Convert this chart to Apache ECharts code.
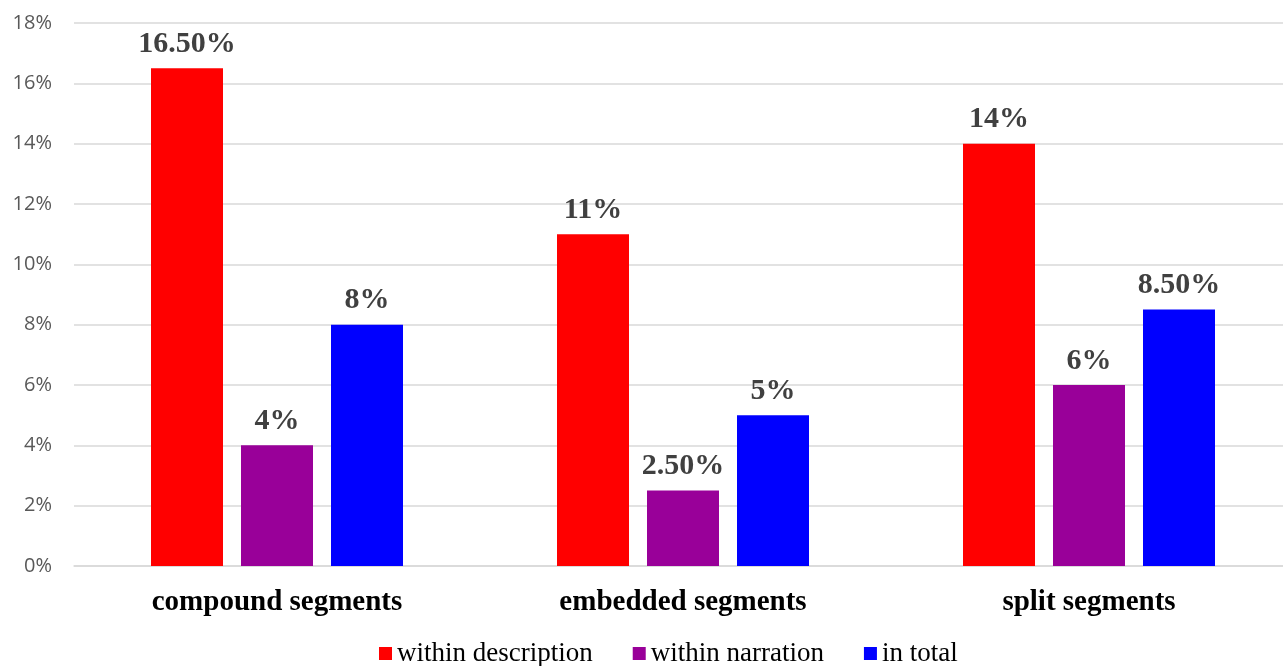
<!DOCTYPE html>
<html>
<head>
<meta charset="utf-8">
<script src="https://cdn.jsdelivr.net/npm/echarts@6/dist/echarts.min.js"></script>
<style>
  html, body { margin: 0; padding: 0; background: #fff; overflow: hidden; }
  #chart { width: 1292px; height: 666px; }
</style>
</head>
<body>
<div id="chart"></div>
<script>
// Share of segment types (in percent)
const categories = ['compound segments', 'embedded segments', 'split segments'];
const seriesNames = ['within description', 'within narration', 'in total'];
const withinDescription = [16.5, 11, 14];
const withinNarration = [4, 2.5, 6];
const inTotal = [8, 5, 8.5];
const valueLabels = [
  ['16.50%', '11%', '14%'],
  ['4%', '2.50%', '6%'],
  ['8%', '5%', '8.50%']
];
const colors = ['#FF0000', '#990099', '#0000FF'];

const chart = echarts.init(document.getElementById('chart'));

function makeSeries(idx, values) {
  return {
    name: seriesNames[idx],
    type: 'bar',
    data: values,
    barWidth: 72,
    barGap: '25%',
    itemStyle: { color: colors[idx] },
    label: {
      show: true,
      position: 'top',
      distance: 9,
      formatter: p => valueLabels[idx][p.dataIndex],
      fontFamily: 'Liberation Serif',
      fontWeight: 'bold',
      fontSize: 30,
      color: '#404040'
    }
  };
}

chart.setOption({
  animation: false,
  grid: { left: 74, right: 0, top: 23, bottom: 100 },
  legend: {
    bottom: -6,
    left: 374,
    itemWidth: 13,
    itemHeight: 13,
    itemGap: 40,
    icon: 'rect',
    textStyle: { fontFamily: 'Liberation Serif', fontSize: 27, color: '#000' },
    data: seriesNames
  },
  xAxis: {
    type: 'category',
    data: categories,
    axisLine: { lineStyle: { color: '#d9d9d9', width: 1.5 } },
    axisTick: { show: false },
    axisLabel: {
      margin: 22,
      fontFamily: 'Liberation Serif',
      fontWeight: 'bold',
      fontSize: 29,
      color: '#000'
    }
  },
  yAxis: {
    type: 'value',
    min: 0,
    max: 18,
    interval: 2,
    axisLine: { show: false },
    axisTick: { show: false },
    axisLabel: {
      formatter: '{value}%',
      margin: 22,
      fontFamily: 'Open Sans',
      fontSize: 20,
      color: '#595959'
    },
    splitLine: { lineStyle: { color: '#d9d9d9', width: 1.5 } }
  },
  series: [
    makeSeries(0, withinDescription),
    makeSeries(1, withinNarration),
    makeSeries(2, inTotal)
  ]
});
</script>
</body>
</html>
